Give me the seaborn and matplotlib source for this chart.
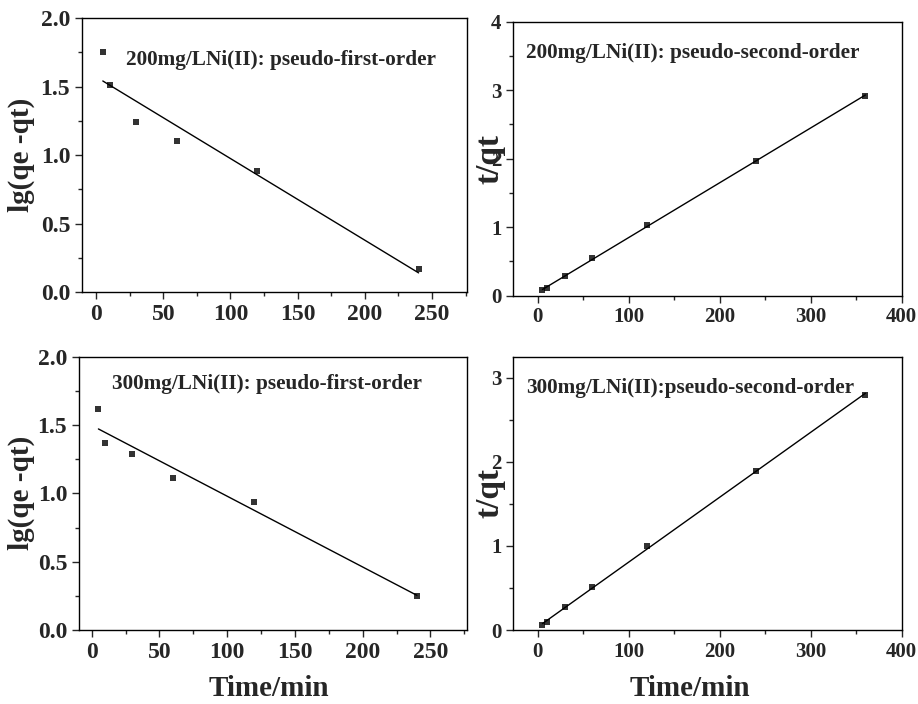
import numpy as np
import pandas as pd
import matplotlib
matplotlib.use("Agg")
import matplotlib.pyplot as plt
import seaborn as sns
from matplotlib.ticker import AutoMinorLocator, MultipleLocator, FormatStrFormatter

# Data
time_first = [5, 10, 30, 60, 120, 240]
time_second = [5, 10, 30, 60, 120, 240, 360]

lg_200 = [1.75, 1.51, 1.24, 1.10, 0.88, 0.17]
tq_200 = [0.08, 0.11, 0.29, 0.55, 1.03, 1.97, 2.92]
lg_300 = [1.62, 1.37, 1.29, 1.11, 0.935, 0.25]
tq_300 = [0.056, 0.095, 0.27, 0.515, 1.0, 1.89, 2.80]

titles = ["200mg/LNi(II): pseudo-first-order",
          "200mg/LNi(II): pseudo-second-order",
          "300mg/LNi(II): pseudo-first-order",
          "300mg/LNi(II):pseudo-second-order"]

sns.set_style("ticks")
plt.rcParams['font.family'] = ['Liberation Serif', 'DejaVu Serif']
plt.rcParams['font.weight'] = 'bold'
plt.rcParams['axes.labelweight'] = 'bold'
plt.rcParams['axes.linewidth'] = 1.0
plt.rcParams['xtick.direction'] = 'out'
plt.rcParams['ytick.direction'] = 'out'

fig = plt.figure(figsize=(9.18, 7.04), dpi=100)
ax_tl = fig.add_axes([0.0893, 0.5852, 0.4194, 0.3892])
ax_tr = fig.add_axes([0.5592, 0.5800, 0.4231, 0.3892])
ax_bl = fig.add_axes([0.0861, 0.1051, 0.4226, 0.3882])
ax_br = fig.add_axes([0.5592, 0.1051, 0.4231, 0.3882])

panels = [
    (ax_tl, time_first, lg_200, titles[0], "lg(qe -qt)", (-10.5, 276), (0, 2.0), 50, 0.5, 17, 21, (0.115, 0.847)),
    (ax_tr, time_second, tq_200, titles[1], "t/qt", (-27, 400), (0, 4), 100, 1, 15, 24, (0.032, 0.886)),
    (ax_bl, time_first, lg_300, titles[2], "lg(qe -qt)", (-9.3, 277), (0, 2.0), 50, 0.5, 17, 21, (0.085, 0.90)),
    (ax_br, time_second, tq_300, titles[3], "t/qt", (-27, 400), (0, 3.25), 100, 1, 15, 24, (0.032, 0.885)),
]

for ax, x, y, title, ylab, xl, yl, xmaj, ymaj, tfs, lfs, tpos in panels:
    sns.regplot(x=x, y=y, ax=ax, ci=None, marker='s', color='black',
                scatter_kws={'s': 22, 'linewidths': 0},
                line_kws={'linewidth': 1.0, 'color': 'black'})
    ax.set_xlim(*xl)
    ax.set_ylim(*yl)
    ax.xaxis.set_major_locator(MultipleLocator(xmaj))
    ax.yaxis.set_major_locator(MultipleLocator(ymaj))
    ax.xaxis.set_minor_locator(AutoMinorLocator(2))
    ax.yaxis.set_minor_locator(AutoMinorLocator(2))
    ax.tick_params(which='major', length=5, width=1, labelsize=tfs)
    ax.tick_params(which='minor', length=3, width=1)
    for sp in ax.spines.values():
        sp.set_visible(True)
        sp.set_color('black')
    ax.set_ylabel(ylab, fontsize=lfs, fontweight='bold')
    ax.set_xlabel("")
    ax.text(tpos[0], tpos[1], title, transform=ax.transAxes, fontsize=15.3,
            fontweight='bold', va='center', ha='left')

ax_tl.yaxis.set_label_coords(-0.122, 0.5)
ax_bl.yaxis.set_label_coords(-0.114, 0.5)
ax_tr.yaxis.set_label_coords(-0.02, 0.5)
ax_br.yaxis.set_label_coords(-0.02, 0.5)
ax_tl.yaxis.set_major_formatter(FormatStrFormatter('%.1f'))
ax_bl.yaxis.set_major_formatter(FormatStrFormatter('%.1f'))

ax_bl.set_xlabel("Time/min", fontsize=21, fontweight='bold')
ax_br.set_xlabel("Time/min", fontsize=21, fontweight='bold')
ax_bl.xaxis.set_label_coords(0.49, -0.165)
ax_br.xaxis.set_label_coords(0.455, -0.165)

fig.savefig("out.png", dpi=100)
